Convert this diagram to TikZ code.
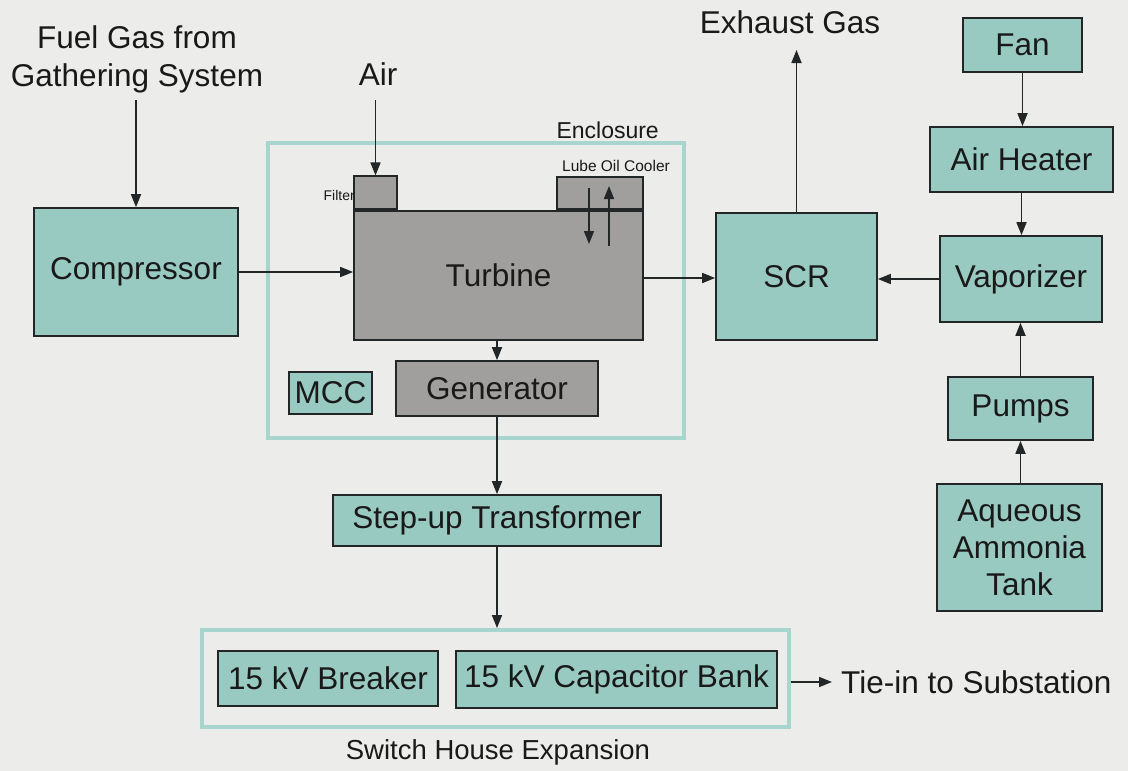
\documentclass[tikz,border=0pt]{standalone}
\usepackage{fontspec}
\setmainfont{Liberation Sans}
\usetikzlibrary{arrows.meta,positioning,calc}

\definecolor{bgpaper}{RGB}{236,236,234}
\definecolor{tealfill}{RGB}{153,202,193}
\definecolor{tealframe}{RGB}{168,214,206}
\definecolor{grayfill}{RGB}{160,159,158}
\definecolor{inkline}{RGB}{35,38,38}

\begin{document}
\begin{tikzpicture}[
    x=1pt, y=-1pt,
    % Node styles
    box/.style={draw=inkline, line width=1.7pt, fill=tealfill, inner sep=0pt, text=black!90,
                font=\fontsize{31.5}{37}\selectfont, align=center},
    graybox/.style={box, fill=grayfill},
    frame/.style={draw=tealframe, line width=4pt, inner sep=0pt},
    txt/.style={font=\fontsize{31.5}{38}\selectfont, text=black!90, align=center, inner sep=0pt},
    smalltxt/.style={font=\fontsize{15.5}{18}\selectfont, text=black!90, inner sep=0pt},
    edge/.style={-{Triangle[length=13pt,width=10pt]}, line width=1.7pt, draw=inkline},
]

% ============================================================
% Background
% ============================================================
\fill[bgpaper] (0,0) rectangle (1128,771);
\useasboundingbox (0,0) rectangle (1128,771);

% ============================================================
% Frames (Enclosure and Switch House)
% ============================================================
\node[frame, minimum width=416, minimum height=295] (encl) at (476,290.5) {};
\node[txt, font=\fontsize{23}{26}\selectfont, anchor=south east] (encltxt) at (659,139) {Enclosure};
\node[frame, minimum width=587, minimum height=97] (swh) at (495.5,678.5) {};
\node[txt, font=\fontsize{27.5}{32}\selectfont] (swhtxt) at (498,752) {Switch House Expansion};

% ============================================================
% Fuel gas and compressor
% ============================================================
\node[txt] (fuel) at (137,59) {Fuel Gas from\\Gathering System};
\node[box, minimum width=204, minimum height=128] (comp) at (136,272) {Compressor};

% ============================================================
% Turbine package
% ============================================================
\node[txt] (air) at (378,74) {Air};
\node[graybox, minimum width=289, minimum height=129] (turb) at (498.5,275.5) {Turbine};
\node[graybox, minimum width=43, minimum height=33, anchor=south west] (filter) at (turb.north west) {};
\node[smalltxt, font=\fontsize{14}{16}\selectfont, anchor=east] (filtertxt) at (355,195) {Filter};
\node[graybox, minimum width=86, minimum height=32, anchor=south east] (lube) at (turb.north east) {};
\node[smalltxt, anchor=south] (lubetxt) at (616,172) {Lube Oil Cooler};
\coordinate (lubeA) at (589,188);
\coordinate (lubeB) at (589,244);
\coordinate (lubeC) at (609,246);
\coordinate (lubeD) at (609,186);
\node[graybox, minimum width=202, minimum height=55] (gen) at (497,388.5) {Generator};
\node[box, minimum width=83, minimum height=42] (mcc) at (330.5,393) {MCC};

% ============================================================
% Electrical path
% ============================================================
\node[box, minimum width=328, minimum height=51] (xfmr) at (497,520.5) {Step-up Transformer};
\node[box, minimum width=220, minimum height=55] (brk) at (328,678.5) {15 kV Breaker};
\node[box, minimum width=321, minimum height=57] (capb) at (616.5,679.5) {15 kV Capacitor Bank};
\node[txt, anchor=west] (tiein) at (841,682) {Tie-in to Substation};
\coordinate (capout) at (791,682);

% ============================================================
% SCR and ammonia system
% ============================================================
\node[box, minimum width=161, minimum height=127] (scr) at (796.5,276.5) {SCR};
\node[txt] (exh) at (790,22) {Exhaust Gas};
\node[box, minimum width=119, minimum height=54] (fan) at (1022.5,45) {Fan};
\node[box, minimum width=183, minimum height=65] (heater) at (1021.5,159.5) {Air Heater};
\node[box, minimum width=162, minimum height=86] (vap) at (1021,279) {Vaporizer};
\node[box, minimum width=145, minimum height=63] (pumps) at (1020.5,408.5) {Pumps};
\node[box, minimum width=165, minimum height=127, font=\fontsize{31.5}{37}\selectfont] (tank) at (1019.5,547.5) {Aqueous\\Ammonia\\Tank};

% ============================================================
% Edges
% ============================================================
\draw[edge] (comp.north |- 0,100) -- (comp.north);
\draw[edge] (comp.east) -- (comp.east -| turb.west);
\draw[edge] (filter.north |- 0,100) -- (filter.north);
\draw[edge] (lubeA) -- (lubeB);
\draw[edge] (lubeC) -- (lubeD);
\draw[edge] (turb.south -| gen.north) -- (gen.north);
\draw[edge] (gen.south) -- (xfmr.north);
\draw[edge] (xfmr.south) -- (xfmr.south |- swh.north);
\draw[edge] (capout) -- ([xshift=-9pt]tiein.west);
\draw[edge] (turb.east |- 0,278) -- (scr.west |- 0,278);
\draw[edge] (scr.north) -- (scr.north |- 0,50);
\draw[edge] (fan.south) -- (fan.south |- heater.north);
\draw[edge] (heater.south) -- (heater.south |- vap.north);
\draw[edge] (vap.west) -- (vap.west -| scr.east);
\draw[edge] (pumps.north) -- (pumps.north |- vap.south);
\draw[edge] (tank.north -| pumps.south) -- (pumps.south);

\end{tikzpicture}
\end{document}
